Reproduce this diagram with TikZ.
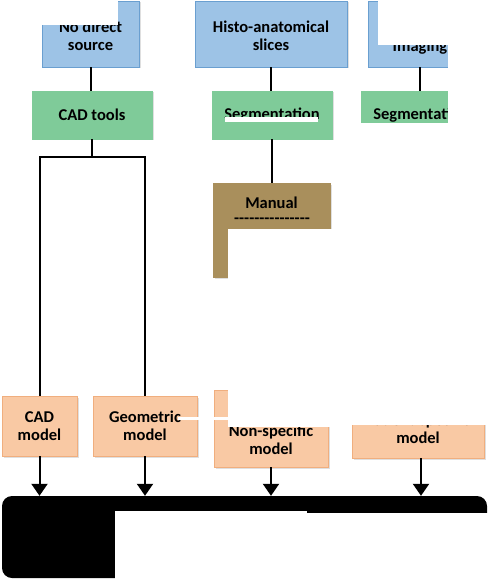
\documentclass[tikz,border=0pt]{standalone}
\usepackage{fontspec}
\setmainfont{Carlito}
\newfontfamily\nolig{Carlito}[Ligatures=TeXOff]
\usetikzlibrary{arrows.meta,shadows}
\definecolor{bluef}{HTML}{9DC3E6}
\definecolor{blued}{HTML}{6A9FD0}
\definecolor{greenf}{HTML}{7FCB99}
\definecolor{brownf}{HTML}{A98F5C}
\definecolor{orangef}{HTML}{F9C9A4}
\definecolor{oranged}{HTML}{F0AE7E}
\tikzset{
  txt/.style={font=\bfseries\fontsize{16.5}{18.5}\selectfont, align=center, inner sep=0pt, text=black},
  box/.style={txt, draw, line width=0.8pt, drop shadow={shadow xshift=1.5pt, shadow yshift=-1.5pt, opacity=0.25}},
  srcbox/.style={box, fill=bluef, draw=blued, minimum height=66pt},
  toolbox/.style={box, fill=greenf, draw=greenf, minimum width=120pt, minimum height=48pt},
  manbox/.style={box, fill=brownf, draw=brownf},
  modbox/.style={box, fill=orangef, draw=oranged},
  conn/.style={line width=2pt, draw=black},
  arr/.style={line width=2pt, -{Triangle[width=16pt,length=12pt]}},
  mask/.style={fill=white, draw=none}
}
\begin{document}
\begin{tikzpicture}[x=1pt,y=-1pt]
\useasboundingbox (0,0) rectangle (490,580);
% sources
\node[srcbox, minimum width=97pt] (src1) at (90.5,34) {};
\node[txt] (src1txt) at (90.5,36) {No direct\\source};
\node[srcbox, minimum width=152pt] (src2) at (271,34) {};
\node[txt] (src2txt) at (271,36) {Histo-anatomical\\slices};
\node[srcbox, minimum width=103pt] (src3) at (420,34) {};
\node[txt] (src3txt) at (420,38) {Medical\\Imaging};
% tools
\node[toolbox] (tool1) at (92,115) {CAD tools};
\node[toolbox] (tool2) at (272,115) {Segmentation};
\node[toolbox] (tool3) at (421,115) {Segmentation};
% manual
\node[manbox, minimum width=117pt, minimum height=94pt] (man) at (271.5,230) {};
\node[txt] (mantxt) at (271.5,203) {Manual};
\node[txt] (mandash) at (272,221) {\nolig ---------------};
% models
\node[modbox, minimum width=75pt, minimum height=60pt] (cadm) at (39.5,426) {CAD\\model};
\node[modbox, minimum width=104pt, minimum height=60pt] (geom) at (145,426) {Geometric\\model};
\node[modbox, minimum width=114pt, minimum height=77pt] (nsm) at (271,428.5) {};
\node[txt] (nsmtxt) at (271,440) {Non-specific\\model};
\node[modbox, minimum width=132pt, minimum height=68pt] (psm) at (418,424) {};
\node[txt] (psmtxt) at (418,429) {Patient-specific\\model};
% result
\node[fill=black, draw=none, rounded corners=10pt, minimum width=485pt, minimum height=82pt, inner sep=0pt] (res) at (244.5,537) {};
% connectors
\draw[conn] (src1.south) -- (src1.south |- tool1.north);
\draw[conn] (tool1.south) -- ++(0,18) coordinate (split);
\draw[conn] (split) -| (cadm.north);
\draw[conn] (split) -| (geom.north);
\draw[conn] (src2.south) -- (src2.south |- tool2.north);
\draw[conn] (tool2.south) -- (tool2.south |- man.north);
\draw[conn] (src3.south) -- (src3.south |- tool3.north);
\draw[arr] (cadm.south) -- (cadm.south |- res.north);
\draw[arr] (geom.south) -- (geom.south |- res.north);
\draw[arr] (nsm.south) -- (nsm.south |- res.north);
\draw[arr] ([xshift=3pt]psm.south) -- ([xshift=3pt]psm.south |- res.north);
% white masks
\fill[mask] (-2,-2) rectangle (118,25);
\fill[mask] (378,-2) rectangle (492,45);
\fill[mask] (448,45) rectangle (492,425);
\fill[mask] (336,123) rectangle (492,425);
\fill[mask] (228,229) rectangle (345,427);
\fill[mask] (345,229) rectangle (492,425);
\fill[mask] (178,417) rectangle (228,419.5);
\fill[mask] (225,117) rectangle (318,122);
\fill[mask] (115,511) rectangle (307,582);
\fill[mask] (307,513) rectangle (492,582);
\end{tikzpicture}
\end{document}
